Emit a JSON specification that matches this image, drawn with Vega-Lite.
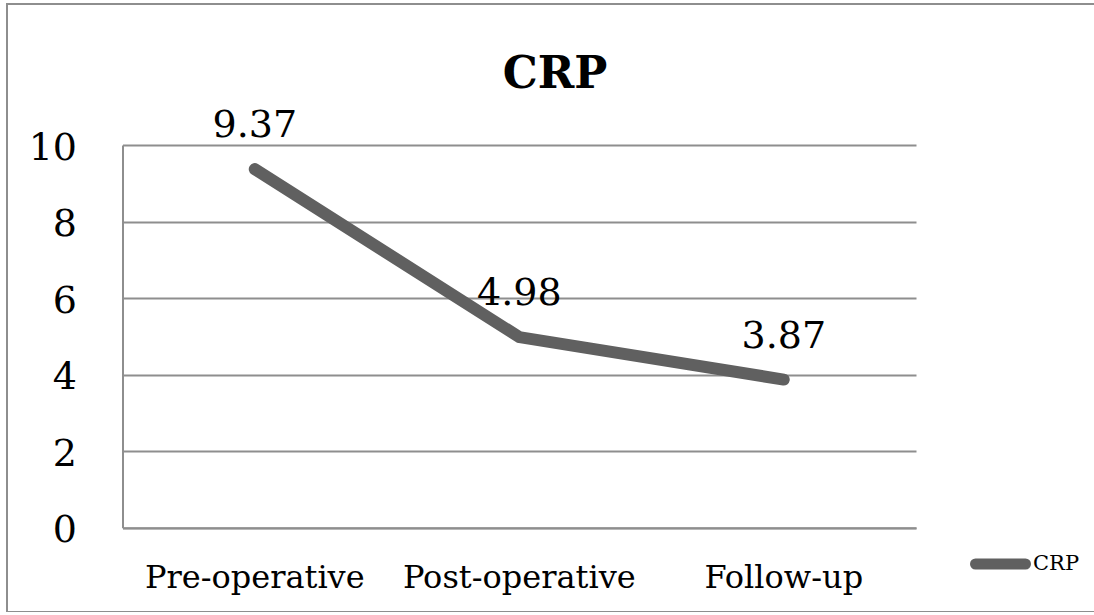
{
  "$schema": "https://vega.github.io/schema/vega-lite/v6.json",
  "autosize": {"type": "none"},
  "padding": {"left": 7, "top": 4, "right": 0, "bottom": 0},
  "width": 1090,
  "height": 608,
  "background": "white",
  "title": {
    "text": "CRP",
    "anchor": "middle",
    "font": "DejaVu Serif",
    "fontSize": 44,
    "fontWeight": "bold",
    "color": "black",
    "baseline": "alphabetic",
    "offset": -128,
    "dx": 3
  },
  "data": {
    "values": [
      {"period": "Pre-operative", "value": 9.37, "series": "CRP"},
      {"period": "Post-operative", "value": 4.98, "series": "CRP"},
      {"period": "Follow-up", "value": 3.87, "series": "CRP"}
    ]
  },
  "encoding": {
    "x": {
      "field": "period",
      "type": "nominal",
      "sort": null,
      "scale": {"type": "band", "range": [115.5, 909], "paddingInner": 0, "paddingOuter": 0},
      "axis": {
        "title": null,
        "offset": -84.3,
        "labelAngle": 0,
        "labelFont": "DejaVu Serif",
        "labelFontSize": 32,
        "labelColor": "black",
        "labelBaseline": "alphabetic",
        "labelPadding": 60,
        "labelLimit": 0,
        "labelOverlap": false,
        "ticks": false,
        "grid": false,
        "domainColor": "#8e8e8e",
        "domainWidth": 2
      }
    },
    "y": {
      "field": "value",
      "type": "quantitative",
      "scale": {"domain": [0, 10], "nice": false, "range": [523.7, 141]},
      "axis": {
        "title": null,
        "offset": -115.5,
        "values": [0, 2, 4, 6, 8, 10],
        "labelFont": "DejaVu Serif",
        "labelFontSize": 38,
        "labelColor": "black",
        "labelPadding": 46,
        "labelBaseline": "middle",
        "labelOffset": 3,
        "ticks": false,
        "grid": true,
        "gridColor": "#8e8e8e",
        "gridWidth": 2,
        "domainColor": "#8e8e8e",
        "domainWidth": 2
      }
    }
  },
  "layer": [
    {
      "mark": {"type": "line", "strokeWidth": 12, "strokeCap": "round", "strokeJoin": "miter"},
      "encoding": {
        "color": {
          "field": "series",
          "type": "nominal",
          "scale": {"range": ["#606060"]},
          "legend": {
            "title": null,
            "orient": "none",
            "legendX": 963,
            "legendY": 529.5,
            "padding": 0,
            "symbolType": "stroke",
            "symbolSize": 2500,
            "symbolStrokeWidth": 11,
            "labelFont": "DejaVu Serif",
            "labelFontSize": 21,
            "labelColor": "black",
            "labelOffset": 2,
            "encode": {"symbols": {"update": {"strokeCap": {"value": "round"}}}}
          }
        }
      }
    },
    {
      "mark": {
        "type": "text",
        "font": "DejaVu Serif",
        "fontSize": 38,
        "color": "black",
        "baseline": "alphabetic",
        "dy": -32
      },
      "encoding": {
        "text": {"field": "value", "type": "quantitative", "format": ".2f"}
      }
    }
  ],
  "config": {
    "view": {"stroke": "#8e8e8e", "strokeWidth": 2}
  }
}
